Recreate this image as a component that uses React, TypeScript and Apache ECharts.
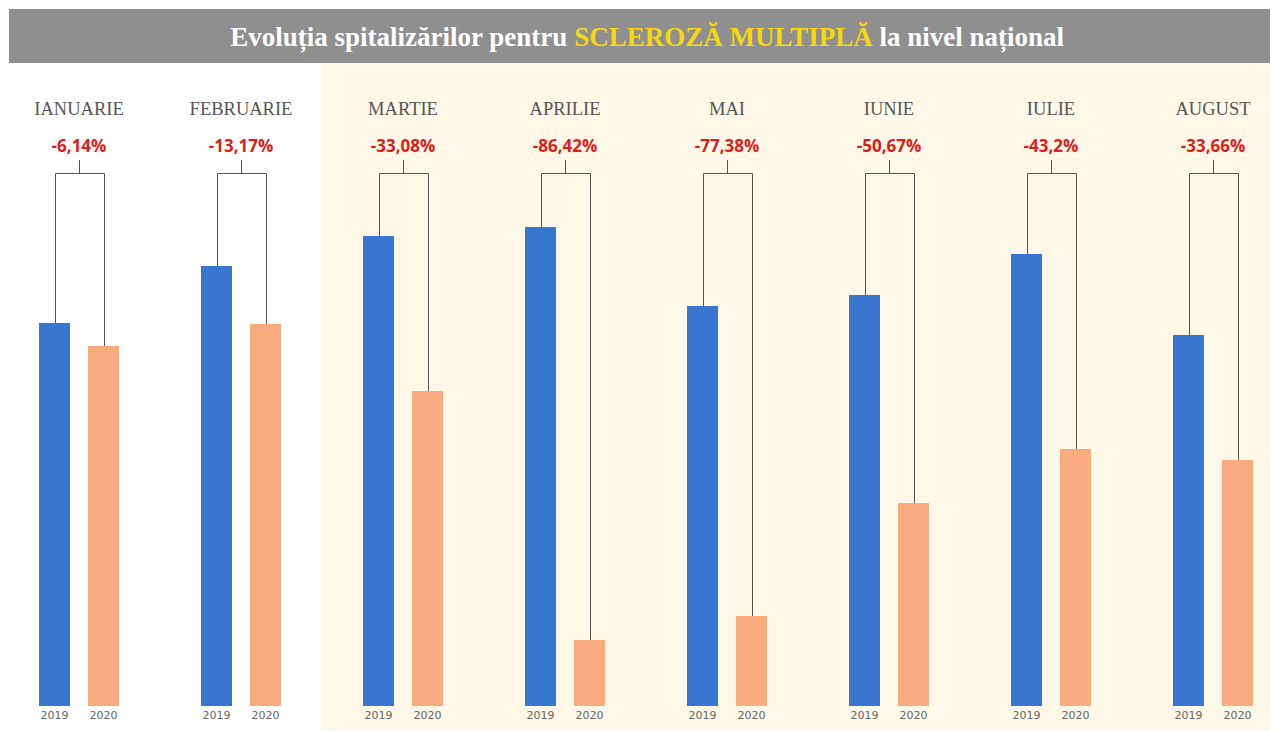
import React, { useEffect, useRef } from "react";
import * as echarts from "echarts";

const months = ["IANUARIE", "FEBRUARIE", "MARTIE", "APRILIE", "MAI", "IUNIE", "IULIE", "AUGUST"];
const values2019 = [383, 440, 470, 479, 400, 411, 452, 371];
const values2020 = [360, 382, 315, 66, 90, 203, 257, 246];
const changes = ["-6,14%", "-13,17%", "-33,08%", "-86,42%", "-77,38%", "-50,67%", "-43,2%", "-33,66%"];
const years = ["2019", "2020"];

const BLUE = "#3876cf";
const ORANGE = "#f9ab80";
const SERIF = "Liberation Serif";

export default function App() {
  const ref = useRef<HTMLDivElement>(null);
  useEffect(() => {
    if (!ref.current) return;
    const chart = echarts.init(ref.current, null, { renderer: "svg" });
    const yearLabel = {
      show: true,
      position: "bottom",
      distance: 4,
      formatter: "{a}",
      fontFamily: "DejaVu Sans",
      fontSize: 11,
      color: "#666666",
    };
    const option: any = {
      animation: false,
      backgroundColor: "#ffffff",
      graphic: [
        { type: "rect", z: -10, shape: { x: 322, y: 63, width: 948, height: 667 }, style: { fill: "#fdf8e8" } },
        { type: "rect", z: -10, shape: { x: 9, y: 9, width: 1261, height: 54 }, style: { fill: "#8f8f8f" } },
        {
          type: "text",
          x: 647,
          y: 37,
          style: {
            text: "{w|Evoluția spitalizărilor pentru }{y|SCLEROZĂ MULTIPLĂ}{w| la nivel național}",
            align: "center",
            verticalAlign: "middle",
            rich: {
              w: { fill: "#ffffff", fontFamily: SERIF, fontWeight: "bold", fontSize: 27 },
              y: { fill: "#f6d80f", fontFamily: SERIF, fontWeight: "bold", fontSize: 27 },
            },
          },
        },
      ],
      grid: { left: -2, top: 6, width: 1296, height: 700, outerBoundsMode: "none", containLabel: false },
      xAxis: {
        type: "category",
        data: months,
        axisLine: { show: false },
        axisTick: { show: false },
        axisLabel: { show: false },
        splitLine: { show: false },
      },
      yAxis: {
        type: "value",
        min: 0,
        max: 700,
        show: false,
        splitLine: { show: false },
      },
      series: [
        {
          name: years[0],
          type: "bar",
          data: values2019,
          barWidth: 31,
          barGap: "58%",
          itemStyle: { color: BLUE },
          z: 3,
          label: yearLabel,
        },
        {
          name: years[1],
          type: "bar",
          data: values2020,
          barWidth: 31,
          itemStyle: { color: ORANGE },
          z: 3,
          label: yearLabel,
        },
        {
          type: "custom",
          z: 2,
          data: months.map((m, i) => [i, values2019[i], values2020[i]]),
          renderItem: (params: any, api: any) => {
            const i = api.value(0);
            const p1 = api.coord([i, api.value(1)]);
            const p2 = api.coord([i, api.value(2)]);
            const cx = p1[0];
            const xl = Math.round(cx - 24.5) + 0.5;
            const xr = Math.round(cx + 24.5) + 0.5;
            const xc = Math.round(cx) + 0.5;
            const topY = 173.5;
            const tickY = 160;
            return {
              type: "group",
              children: [
                {
                  type: "polyline",
                  shape: { points: [[xl, p1[1]], [xl, topY], [xr, topY], [xr, p2[1]]] },
                  style: { stroke: "#555555", lineWidth: 1, fill: "none" },
                },
                {
                  type: "line",
                  shape: { x1: xc, y1: topY, x2: xc, y2: tickY },
                  style: { stroke: "#555555", lineWidth: 1 },
                },
                {
                  type: "text",
                  x: cx,
                  y: 145,
                  style: {
                    text: changes[i],
                    align: "center",
                    verticalAlign: "middle",
                    fill: "#dd1c1c",
                    fontFamily: "Open Sans",
                    fontWeight: "bold",
                    fontSize: 17,
                  },
                },
                {
                  type: "text",
                  x: cx,
                  y: 109,
                  style: {
                    text: months[i],
                    align: "center",
                    verticalAlign: "middle",
                    fill: "#555555",
                    fontFamily: SERIF,
                    fontSize: 18.5,
                  },
                },
              ],
            };
          },
        },
      ],
    };
    chart.setOption(option);
    return () => chart.dispose();
  }, []);
  return (
    <div
      ref={ref}
      style={{ position: "absolute", left: 0, top: 0, width: 1271, height: 731 }}
    />
  );
}
